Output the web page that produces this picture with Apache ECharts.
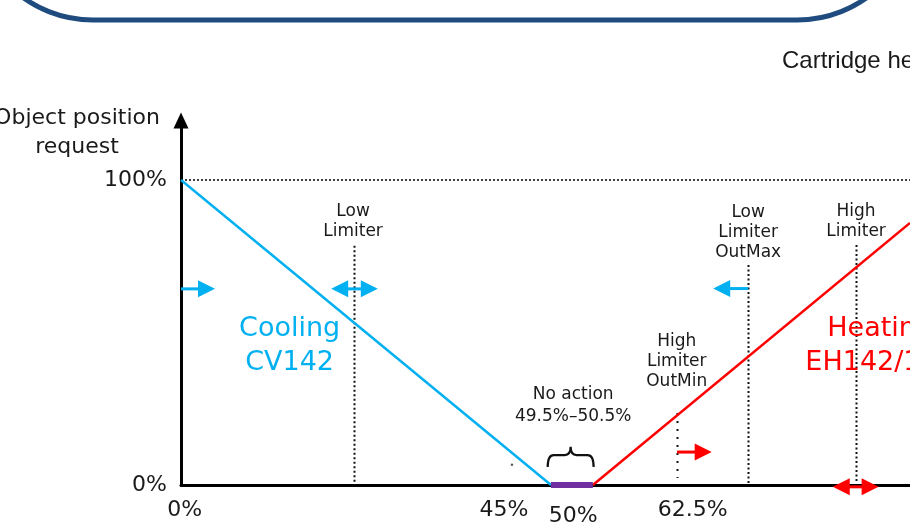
<!DOCTYPE html>
<html>
<head>
<meta charset="utf-8">
<script src="https://cdn.jsdelivr.net/npm/echarts@6/dist/echarts.min.js"></script>
<style>
html,body{margin:0;padding:0;background:#fff;}
#c{width:910px;height:530px;}
</style>
</head>
<body>
<div id="c"></div>
<script>
// ---- data (diagram units: x 0..100 across the axis, y in % of position request) ----
const xTickPos = [0.5, 44.3, 53.8, 70.2];
const xTickLabels = ['0%', '45%', '50%', '62.5%'];
const yTickPos = [0, 100];
const yTickLabels = ['0%', '100%'];

const coolingLine = [[0, 100], [50.75, 0]];
const heatingLine = [[56.5, 0], [100, 85.9]];
const noActionBand = [[50.75, 0], [56.5, 0]];
const fullScaleRef = [[0, 100], [100, 100]];

// dotted limiter guides: [x, yTop, yBottom]
const denseGuides = [[23.73, 78.4, 0], [77.8, 72.1, 0], [92.6, 78.7, 1]];
const sparseGuides = [[68.04, 23.6, 2.3]];

// arrows: [xStart, y, xEnd, doubleHeaded]
const blueArrows = [[0, 64.3, 4.66, 0], [20.6, 64.3, 27.0, 1], [77.8, 64.4, 73.0, 0]];
const redArrows = [[68.04, 10.8, 72.8, 0], [89.4, -0.6, 95.7, 1]];

// brace above the no-action band: [xLeft, xRight, yEnds, yMid, yTip]
const braceData = [[50.3, 56.6, 5.9, 9.8, 12.5]];
const strayDots = [[45.4, 6.6]];

// annotation texts
const limiterLabelPos = [[23.6, 86.4], [68.0, 40.3], [77.8, 82.6], [92.6, 86.4]];
const limiterLabelText = ['Low\nLimiter', 'High\nLimiter\nOutMin', 'Low\nLimiter\nOutMax', 'High\nLimiter'];
const noActionPos = [[53.8, 25.9]];
const noActionText = ['No action\n49.5%–50.5%'];
const coolingPos = [[14.9, 45.6]];
const coolingText = ['Cooling\nCV142'];
const heatingPos = [[95.9, 45.6]];
const heatingText = ['Heating\nEH142/143'];

const FONT = '"DejaVu Sans", Verdana, sans-serif';
const INK = '#1a1a1a';

function textSeries(pos, texts, color, size, lh) {
  return {
    type: 'custom', coordinateSystem: 'cartesian2d', clip: false, silent: true,
    data: pos, z: 10,
    renderItem: function (params, api) {
      const p = api.coord([api.value(0), api.value(1)]);
      return {
        type: 'text', x: p[0], y: p[1],
        style: {
          text: texts[params.dataIndex], fill: color,
          fontSize: size, fontFamily: FONT, align: 'center', verticalAlign: 'middle', lineHeight: lh
        }
      };
    }
  };
}

function guideSeries(data, dash) {
  return {
    type: 'custom', coordinateSystem: 'cartesian2d', clip: false, silent: true, data: data,
    renderItem: function (params, api) {
      const a = api.coord([api.value(0), api.value(1)]);
      const b = api.coord([api.value(0), api.value(2)]);
      const x = Math.round(a[0]) + 0.5;
      return {
        type: 'line', shape: { x1: x, y1: a[1], x2: x, y2: b[1] },
        style: { stroke: '#111', lineWidth: 2, lineDash: dash }
      };
    }
  };
}

function arrowSeries(data, color) {
  return {
    type: 'custom', coordinateSystem: 'cartesian2d', clip: false, silent: true, data: data, z: 5,
    renderItem: function (params, api) {
      const p1 = api.coord([api.value(0), api.value(1)]);
      const p2 = api.coord([api.value(2), api.value(1)]);
      const both = api.value(3) === 1;
      const dir = p2[0] > p1[0] ? 1 : -1;
      const L = 17, H = 8.5, y = p1[1];
      const children = [];
      const xs = both ? p1[0] + dir * (L - 2) : p1[0];
      const xe = p2[0] - dir * (L - 2);
      children.push({ type: 'line', shape: { x1: xs, y1: y, x2: xe, y2: y }, style: { stroke: color, lineWidth: 3 } });
      children.push({ type: 'polygon', shape: { points: [[p2[0], y], [p2[0] - dir * L, y - H], [p2[0] - dir * L, y + H]] }, style: { fill: color } });
      if (both) {
        children.push({ type: 'polygon', shape: { points: [[p1[0], y], [p1[0] + dir * L, y - H], [p1[0] + dir * L, y + H]] }, style: { fill: color } });
      }
      return { type: 'group', children: children };
    }
  };
}

const chart = echarts.init(document.getElementById('c'), null, { renderer: 'canvas' });
chart.setOption({
  animation: false,
  backgroundColor: '#fff',
  grid: { left: 181, right: 0, top: 120.5, bottom: 45, containLabel: false },
  xAxis: {
    type: 'value', min: 0, max: 100,
    axisLine: { show: true, onZero: false, lineStyle: { color: '#000', width: 3 } },
    axisTick: { show: false },
    splitLine: { show: false },
    axisLabel: {
      customValues: xTickPos,
      margin: 14,
      color: INK, fontSize: 22, fontFamily: FONT,
      formatter: function (v, i) {
        const k = xTickPos.indexOf(v);
        const t = xTickLabels[k >= 0 ? k : i];
        return k === 2 ? '{low|' + t + '}' : t;
      },
      rich: { low: { fontSize: 22, fontFamily: FONT, color: INK, padding: [6, 0, 0, 0] } }
    }
  },
  yAxis: {
    type: 'value', min: 0, max: 119.5,
    axisLine: { show: true, onZero: false, symbol: ['none', 'triangle'], symbolSize: [15, 16], lineStyle: { color: '#000', width: 3 } },
    axisTick: { show: false },
    splitLine: { show: false },
    axisLabel: {
      customValues: yTickPos,
      margin: 14,
      color: INK, fontSize: 22, fontFamily: FONT,
      formatter: function (v) {
        const k = yTickPos.indexOf(v);
        return k >= 0 ? yTickLabels[k] : '';
      }
    }
  },
  graphic: [
    { type: 'rect', shape: { x: -27, y: -300, width: 944, height: 320, r: 120 },
      style: { fill: 'none', stroke: '#1f4b7e', lineWidth: 5 }, silent: true },
    { type: 'text', x: 782, y: 61,
      style: { text: 'Cartridge heaters', fill: INK, fontSize: 24, fontFamily: '"Liberation Sans", Arial, sans-serif', verticalAlign: 'middle' } },
    { type: 'text', x: 77, y: 133,
      style: { text: 'Object position\nrequest', fill: INK, fontSize: 22, fontFamily: FONT, align: 'center', verticalAlign: 'middle', lineHeight: 29 } }
  ],
  series: [
    { type: 'line', data: fullScaleRef, symbol: 'none', silent: true,
      lineStyle: { color: '#000', width: 1.5, type: [2, 2] }, z: 1 },
    guideSeries(denseGuides, [2, 2.5]),
    guideSeries(sparseGuides, [2, 6]),
    { type: 'line', data: coolingLine, symbol: 'none', silent: true, lineStyle: { color: '#00b0f0', width: 2.5 }, z: 3 },
    { type: 'line', data: heatingLine, symbol: 'none', silent: true, clip: false, lineStyle: { color: '#ff0000', width: 2.5 }, z: 3 },
    { type: 'line', data: noActionBand, symbol: 'none', silent: true, lineStyle: { color: '#7030a0', width: 6, cap: 'butt' }, z: 4 },
    arrowSeries(blueArrows, '#00b0f0'),
    arrowSeries(redArrows, '#ff0000'),
    {
      type: 'custom', coordinateSystem: 'cartesian2d', clip: false, silent: true, data: braceData,
      renderItem: function (params, api) {
        const l = api.coord([api.value(0), api.value(2)]);
        const r = api.coord([api.value(1), api.value(2)]);
        const m = api.coord([(api.value(0) + api.value(1)) / 2, api.value(3)]);
        const t = api.coord([(api.value(0) + api.value(1)) / 2, api.value(4)]);
        const ym = m[1], xm = m[0], c = 6;
        const d = 'M' + l[0] + ',' + l[1] +
          ' Q' + l[0] + ',' + ym + ' ' + (l[0] + c) + ',' + ym +
          ' L' + (xm - c) + ',' + ym +
          ' Q' + xm + ',' + ym + ' ' + xm + ',' + t[1] +
          ' Q' + xm + ',' + ym + ' ' + (xm + c) + ',' + ym +
          ' L' + (r[0] - c) + ',' + ym +
          ' Q' + r[0] + ',' + ym + ' ' + r[0] + ',' + r[1];
        return { type: 'path', shape: { pathData: d }, style: { fill: 'none', stroke: '#111', lineWidth: 2.2 } };
      }
    },
    { type: 'scatter', data: strayDots, symbolSize: 2.5, itemStyle: { color: '#333' }, silent: true },
    textSeries(limiterLabelPos, limiterLabelText, INK, 17, 20),
    textSeries(noActionPos, noActionText, INK, 17, 22),
    textSeries(coolingPos, coolingText, '#00b0f0', 27, 34),
    textSeries(heatingPos, heatingText, '#ff0000', 27, 34)
  ]
});
</script>
</body>
</html>
